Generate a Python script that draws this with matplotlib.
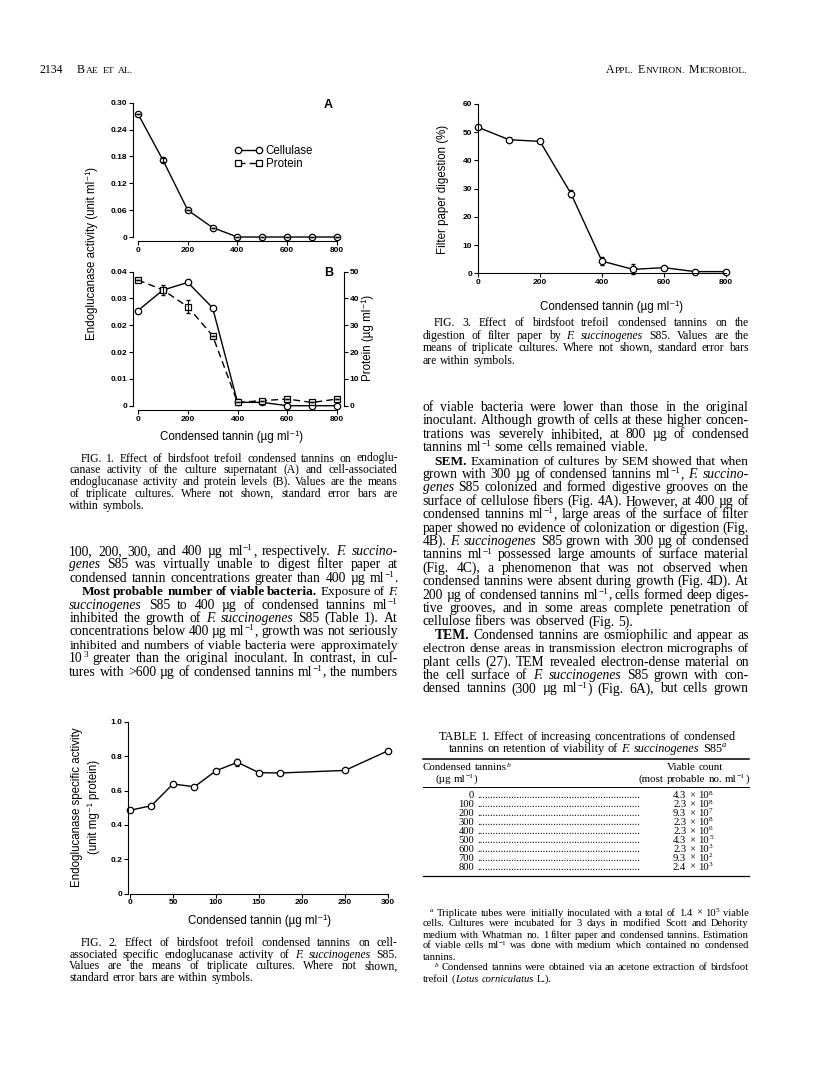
import re
import numpy as np
import matplotlib
matplotlib.use('Agg')
import matplotlib.pyplot as plt
from matplotlib.lines import Line2D

# ---------------- data ----------------
tannin_fig1 = [0, 100, 200, 300, 400, 500, 600, 700, 800]
cellulase_A = [0.275, 0.172, 0.060, 0.021, 0.0, 0.0, 0.0, 0.0, 0.0]
cellulase_A_err = [0, 0.004, 0, 0, 0, 0, 0, 0, 0]
cellulase_B = [0.0284, 0.0345, 0.0368, 0.0292, 0.0010, 0.0010, 0.0, 0.0, 0.0]
protein_B = [46.9, 43.2, 36.9, 26.1, 1.2, 1.9, 2.5, 1.2, 2.5]
protein_B_err = [0, 2.0, 2.4, 0, 0, 0, 0, 0, 0]

tannin_fig2 = [0, 25, 50, 75, 100, 125, 150, 175, 250, 300]
specific_act = [0.485, 0.512, 0.638, 0.622, 0.715, 0.764, 0.704, 0.702, 0.717, 0.831]
specific_err = [0, 0, 0, 0, 0, 0.02, 0, 0, 0, 0]

tannin_fig3 = [0, 100, 200, 300, 400, 500, 600, 700, 800]
filter_digestion = [51.7, 47.3, 46.7, 28.2, 4.3, 1.4, 2.0, 0.6, 0.6]
filter_err = [0, 0, 0, 1.3, 1.5, 1.8, 0, 0, 0]

table_conc = ['0', '100', '200', '300', '400', '500', '600', '700', '800']
table_mant = ['4.3', '2.3', '9.3', '2.3', '2.3', '4.3', '2.3', '9.3', '2.4']
table_exp = ['8', '8', '7', '8', '6', '5', '3', '2', '3']

fig1_xticks = [0, 200, 400, 600, 800]
fig1A_yticks = [0, 0.06, 0.12, 0.18, 0.24, 0.30]
fig1A_ylabels = ['0', '0.06', '0.12', '0.18', '0.24', '0.30']
fig1B_yticks = [0, 0.008, 0.016, 0.024, 0.032, 0.04]
fig1B_ylabels = ['0', '0.01', '0.02', '0.02', '0.03', '0.04']
fig1B_rticks = [0, 10, 20, 30, 40, 50]
fig2_xticks = [0, 50, 100, 150, 200, 250, 300]
fig2_yticks = [0, 0.2, 0.4, 0.6, 0.8, 1.0]
fig2_ylabels = ['0', '0.2', '0.4', '0.6', '0.8', '1.0']
fig3_xticks = [0, 200, 400, 600, 800]
fig3_yticks = [0, 10, 20, 30, 40, 50, 60]

# ---------------- text ----------------
fig1_caption = [
    "FIG. 1. Effect of birdsfoot trefoil condensed tannins on endoglu-",
    "canase activity of the culture supernatant (A) and cell-associated",
    "endoglucanase activity and protein levels (B). Values are the means",
    "of triplicate cultures. Where not shown, standard error bars are",
    "within symbols.",
]
fig2_caption = [
    "FIG. 2. Effect of birdsfoot trefoil condensed tannins on cell-",
    "associated specific endoglucanase activity of <i>F. succinogenes</i> S85.",
    "Values are the means of triplicate cultures. Where not shown,",
    "standard error bars are within symbols.",
]
fig3_caption = [
    "FIG. 3. Effect of birdsfoot trefoil condensed tannins on the",
    "digestion of filter paper by <i>F. succinogenes</i> S85. Values are the",
    "means of triplicate cultures. Where not shown, standard error bars",
    "are within symbols.",
]
left_body = [
    "100, 200, 300, and 400 µg ml<sup>−1</sup>, respectively. <i>F. succino-</i>",
    "<i>genes</i> S85 was virtually unable to digest filter paper at",
    "condensed tannin concentrations greater than 400 µg ml<sup>−1</sup>.",
    "<b>Most probable number of viable bacteria.</b> Exposure of <i>F.</i>",
    "<i>succinogenes</i> S85 to 400 µg of condensed tannins ml<sup>−1</sup>",
    "inhibited the growth of <i>F. succinogenes</i> S85 (Table 1). At",
    "concentrations below 400 µg ml<sup>−1</sup>, growth was not seriously",
    "inhibited and numbers of viable bacteria were approximately",
    "10<sup>3</sup> greater than the original inoculant. In contrast, in cul-",
    "tures with >600 µg of condensed tannins ml<sup>−1</sup>, the numbers",
]
left_indent = [0, 0, 0, 12, 0, 0, 0, 0, 0, 0]
left_just = [True] * 10
right_body = [
    "of viable bacteria were lower than those in the original",
    "inoculant. Although growth of cells at these higher concen-",
    "trations was severely inhibited, at 800 µg of condensed",
    "tannins ml<sup>−1</sup> some cells remained viable.",
    "<b>SEM.</b> Examination of cultures by SEM showed that when",
    "grown with 300 µg of condensed tannins ml<sup>−1</sup>, <i>F. succino-</i>",
    "<i>genes</i> S85 colonized and formed digestive grooves on the",
    "surface of cellulose fibers (Fig. 4A). However, at 400 µg of",
    "condensed tannins ml<sup>−1</sup>, large areas of the surface of filter",
    "paper showed no evidence of colonization or digestion (Fig.",
    "4B). <i>F. succinogenes</i> S85 grown with 300 µg of condensed",
    "tannins ml<sup>−1</sup> possessed large amounts of surface material",
    "(Fig. 4C), a phenomenon that was not observed when",
    "condensed tannins were absent during growth (Fig. 4D). At",
    "200 µg of condensed tannins ml<sup>−1</sup>, cells formed deep diges-",
    "tive grooves, and in some areas complete penetration of",
    "cellulose fibers was observed (Fig. 5).",
    "<b>TEM.</b> Condensed tannins are osmiophilic and appear as",
    "electron dense areas in transmission electron micrographs of",
    "plant cells (27). TEM revealed electron-dense material on",
    "the cell surface of <i>F. succinogenes</i> S85 grown with con-",
    "densed tannins (300 µg ml<sup>−1</sup>) (Fig. 6A), but cells grown",
]
right_indent = [0, 0, 0, 0, 12, 0, 0, 0, 0, 0, 0, 0, 0, 0, 0, 0, 0, 12, 0, 0, 0, 0]
right_just = [True, True, True, False] + [True] * 12 + [False] + [True] * 5
table_title = [
    "TABLE 1. Effect of increasing concentrations of condensed",
    "tannins on retention of viability of <i>F. succinogenes</i> S85<sup><i>a</i></sup>",
]
table_notes = [
    "<sup><i>a</i></sup> Triplicate tubes were initially inoculated with a total of 1.4 × 10<sup>5</sup> viable",
    "cells. Cultures were incubated for 3 days in modified Scott and Dehority",
    "medium with Whatman no. 1 filter paper and condensed tannins. Estimation",
    "of viable cells ml<sup>−1</sup> was done with medium which contained no condensed",
    "tannins.",
    "<sup><i>b</i></sup> Condensed tannins were obtained via an acetone extraction of birdsfoot",
    "trefoil (<i>Lotus corniculatus</i> L.).",
]
notes_indent = [7, 0, 0, 0, 0, 12, 0]
notes_just = [True, True, True, True, False, True, False]

# ---------------- setup ----------------
W, H = 816, 1080
SERIF = ['Liberation Serif', 'DejaVu Serif']
SANS = ['Liberation Sans', 'DejaVu Sans']
plt.rcParams['font.family'] = SANS
plt.rcParams['axes.linewidth'] = 0.8

fig = plt.figure(figsize=(W / 100, H / 100), dpi=100)
fig.patch.set_facecolor('white')
renderer = fig.canvas.get_renderer()


def fx(x):
    return x / W


def fy(y):
    return 1 - y / H


TAG = re.compile(r'(<i>|</i>|<b>|</b>|<sup>|</sup>)')


def parse_words(s):
    st = {'i': False, 'b': False, 's': False}
    words = [[]]
    for tok in TAG.split(s):
        if tok == '<i>':
            st['i'] = True
        elif tok == '</i>':
            st['i'] = False
        elif tok == '<b>':
            st['b'] = True
        elif tok == '</b>':
            st['b'] = False
        elif tok == '<sup>':
            st['s'] = True
        elif tok == '</sup>':
            st['s'] = False
        elif tok:
            parts = tok.split(' ')
            for k, p in enumerate(parts):
                if k > 0:
                    words.append([])
                if p:
                    words[-1].append((p, st['i'], st['b'], st['s']))
    return [w for w in words if w]


def make_piece(y, p, size, family):
    text, it, bd, sup = p
    em = size * 100 / 72
    fs = size * 0.68 if sup else size
    yy = y - em * 0.36 if sup else y
    t = fig.text(0, fy(yy), text, fontsize=fs, family=family,
                 style='italic' if it else 'normal',
                 weight='bold' if bd else 'normal', va='baseline', ha='left')
    w = t.get_window_extent(renderer).width
    return t, w


def draw_line(x0, x1, y, s, size, family=SERIF, justify=True, indent=0, align='left'):
    words = parse_words(s)
    while True:
        items = []
        for wd in words:
            pieces = []
            ww = 0
            for p in wd:
                t, pw = make_piece(y, p, size, family)
                pieces.append((t, pw))
                ww += pw + 0.3
            items.append((pieces, ww))
        total = sum(i[1] for i in items)
        n = len(items)
        space = size * 100 / 72 * 0.25
        if justify and n > 1:
            gap = (x1 - x0 - indent - total) / (n - 1)
            if gap < size * 100 / 72 * 0.18:
                for pieces, ww in items:
                    for t, pw in pieces:
                        t.remove()
                size *= 0.985
                continue
        else:
            gap = space
        break
    span = total + gap * (n - 1)
    if align == 'center':
        x = (x0 + x1) / 2 - span / 2
    elif align == 'right':
        x = x1 - span
    else:
        x = x0 + indent
    for pieces, ww in items:
        for t, pw in pieces:
            t.set_x(fx(x))
            x += pw + 0.3
        x += gap


def draw_block(lines, x0, x1, y0, step, size, indents=None, justs=None):
    for k, s in enumerate(lines):
        ind = indents[k] if indents else 0
        j = justs[k] if justs else (k < len(lines) - 1)
        draw_line(x0, x1, y0 + k * step, s, size, indent=ind, justify=j)


def smallcaps(x, y, text, big, small, align='left'):
    arts = []
    words = text.split(' ')
    xx = 0
    for wi, wd in enumerate(words):
        runs = re.findall(r'[a-z.]+|[^a-z.]+', wd)
        for r in runs:
            if r[0].islower() or r[0] == '.':
                t = fig.text(0, fy(y), r.upper(), fontsize=small, family=SERIF, va='baseline')
            else:
                t = fig.text(0, fy(y), r, fontsize=big, family=SERIF, va='baseline')
            w = t.get_window_extent(renderer).width
            arts.append((t, xx))
            xx += w + 0.5
        xx += big * 100 / 72 * 0.3
    xx -= big * 100 / 72 * 0.3
    start = x if align == 'left' else x - xx
    for t, off in arts:
        t.set_x(fx(start + off))


def px_axes(x0, y0, x1, y1):
    ax = fig.add_axes([x0 / W, 1 - y1 / H, (x1 - x0) / W, (y1 - y0) / H])
    ax.patch.set_alpha(0)
    return ax


def style_ax(ax):
    ax.tick_params(direction='out', length=2.6, width=0.8, labelsize=6, pad=1.5, colors='black')
    for lab in ax.get_xticklabels() + ax.get_yticklabels():
        lab.set_fontweight('bold')
        lab.set_family(SANS)


MK = dict(marker='o', markersize=4.6, markerfacecolor='white', markeredgecolor='black',
          markeredgewidth=0.9, color='black', linewidth=1.0, clip_on=False)

# ---------------- header ----------------
fig.text(fx(40), fy(73), '2134', fontsize=8.5, family=SERIF, va='baseline')
smallcaps(77, 73, 'Bae et al.', 8.5, 6.8)
smallcaps(748, 73, 'Appl. Environ. Microbiol.', 8.5, 6.8, align='right')

# ---------------- Fig 1A ----------------
axA = px_axes(133, 100, 342, 241)
axA.set_xlim(-20.1, 820.1)
axA.set_ylim(-0.0089, 0.306)
lA, = axA.plot(tannin_fig1, cellulase_A, **MK)
axA.errorbar(tannin_fig1, cellulase_A, yerr=cellulase_A_err, fmt='none', ecolor='black',
             elinewidth=0.8, capsize=1.5, clip_on=False)
for s in ['top', 'right']:
    axA.spines[s].set_visible(False)
axA.spines['left'].set_bounds(0, 0.30)
axA.spines['bottom'].set_bounds(0, 800)
axA.set_xticks(fig1_xticks)
axA.set_yticks(fig1A_yticks)
axA.set_yticklabels(fig1A_ylabels)
style_ax(axA)
prot_handle = Line2D([], [], marker='s', markersize=4.4, markerfacecolor='white',
                     markeredgecolor='black', markeredgewidth=0.9, color='black',
                     linewidth=1.0, linestyle=(0, (5, 3)))
axA.legend([lA, prot_handle], ['Cellulase', 'Protein'], loc='upper left',
           bbox_to_anchor=(fx(235), fy(145)), bbox_transform=fig.transFigure,
           frameon=False, fontsize=8.3, handlelength=2.4, handletextpad=0.25,
           labelspacing=0.05, borderpad=0, borderaxespad=0, numpoints=2)
fig.text(fx(328), fy(105), 'A', fontsize=9, weight='bold', ha='center', va='center')

# ---------------- Fig 1B ----------------
axB = px_axes(133, 269, 344, 410)
axB.set_xlim(-20.1, 828)
axB.set_ylim(-0.00128, 0.0408)
axB.plot(tannin_fig1, cellulase_B, zorder=3, **MK)
for s in ['top', 'right']:
    axB.spines[s].set_visible(False)
axB.spines['left'].set_bounds(0, 0.04)
axB.spines['bottom'].set_bounds(0, 800)
axB.set_xticks(fig1_xticks)
axB.set_yticks(fig1B_yticks)
axB.set_yticklabels(fig1B_ylabels)
style_ax(axB)
axR = axB.twinx()
axR.set_ylim(-1.6, 51.0)
axR.plot(tannin_fig1, protein_B, marker='s', markersize=4.4, markerfacecolor='white',
         markeredgecolor='black', markeredgewidth=0.9, color='black', linewidth=1.0,
         linestyle=(0, (5, 3)), clip_on=False, zorder=2)
axR.errorbar(tannin_fig1, protein_B, yerr=protein_B_err, fmt='none', ecolor='black',
             elinewidth=0.8, capsize=1.5, clip_on=False)
for s in ['top', 'left', 'bottom']:
    axR.spines[s].set_visible(False)
axR.spines['right'].set_bounds(0, 50)
axR.set_yticks(fig1B_rticks)
style_ax(axR)
fig.text(fx(329), fy(273), 'B', fontsize=9, weight='bold', ha='center', va='center')

fig.text(fx(92), fy(254), 'Endoglucanase activity (unit ml⁻¹)', fontsize=8.3,
         rotation=90, ha='center', va='center', family=SANS)
fig.text(fx(368), fy(338), 'Protein (µg ml⁻¹)', fontsize=8.3,
         rotation=90, ha='center', va='center', family=SANS)
fig.text(fx(232), fy(437), 'Condensed tannin (µg ml⁻¹)', fontsize=8.3,
         ha='center', va='center', family=SANS)

# ---------------- Fig 3 ----------------
ax3 = px_axes(478, 101, 729, 273.3)
ax3.set_xlim(0, 809.7)
ax3.set_ylim(0, 61)
ax3.errorbar(tannin_fig3, filter_digestion, yerr=filter_err, fmt='none', ecolor='black',
             elinewidth=0.8, capsize=1.5, clip_on=False)
ax3.plot(tannin_fig3, filter_digestion, **MK)
for s in ['top', 'right']:
    ax3.spines[s].set_visible(False)
ax3.spines['left'].set_bounds(0, 60)
ax3.spines['bottom'].set_bounds(0, 800)
ax3.set_xticks(fig3_xticks)
ax3.set_yticks(fig3_yticks)
style_ax(ax3)
fig.text(fx(443), fy(189), 'Filter paper digestion (%)', fontsize=8.3,
         rotation=90, ha='center', va='center', family=SANS)
fig.text(fx(612), fy(307), 'Condensed tannin (µg ml⁻¹)', fontsize=8.3,
         ha='center', va='center', family=SANS)

# ---------------- Fig 2 ----------------
ax2 = px_axes(128, 719, 392, 893.7)
ax2.set_xlim(-2.3, 304.7)
ax2.set_ylim(0, 1.016)
ax2.errorbar(tannin_fig2, specific_act, yerr=specific_err, fmt='none', ecolor='black',
             elinewidth=0.8, capsize=1.5, clip_on=False)
ax2.plot(tannin_fig2, specific_act, **MK)
for s in ['top', 'right']:
    ax2.spines[s].set_visible(False)
ax2.spines['left'].set_bounds(0, 1.0)
ax2.spines['bottom'].set_bounds(0, 300)
ax2.set_xticks(fig2_xticks)
ax2.set_yticks(fig2_yticks)
ax2.set_yticklabels(fig2_ylabels)
style_ax(ax2)
fig.text(fx(77), fy(807), 'Endoglucanase specific activity', fontsize=8.3,
         rotation=90, ha='center', va='center', family=SANS)
fig.text(fx(93.5), fy(807), '(unit mg⁻¹ protein)', fontsize=8.3,
         rotation=90, ha='center', va='center', family=SANS)
fig.text(fx(259), fy(921), 'Condensed tannin (µg ml⁻¹)', fontsize=8.3,
         ha='center', va='center', family=SANS)

# ---------------- captions and body ----------------
draw_block(fig1_caption, 69.3, 398, 461.5, 11.9, 8.4, indents=[11, 0, 0, 0, 0])
draw_block(fig3_caption, 422.7, 749, 326, 12.5, 8.4, indents=[11, 0, 0, 0])
draw_block(fig2_caption, 69.3, 398, 946, 11.7, 8.4, indents=[11, 0, 0, 0])
draw_block(left_body, 69.3, 398, 555, 13.4, 9.8, indents=left_indent, justs=left_just)
draw_block(right_body, 422.7, 749, 411, 13.4, 9.8, indents=right_indent, justs=right_just)

# ---------------- table ----------------
for k, s in enumerate(table_title):
    draw_line(587.5, 587.5, 740 + 11.7 * k, s, 8.8, justify=False, align='center')


def hrule(y, lw=0.9):
    fig.add_artist(Line2D([fx(422.7), fx(749)], [fy(y), fy(y)], color='black', linewidth=lw))


hrule(759.3, 1.1)
hrule(787.3, 0.7)
hrule(875.7, 0.9)
draw_line(422.7, 600, 770.5, 'Condensed tannins<sup><i>b</i></sup>', 7.9, justify=False)
draw_line(435, 600, 782, '(µg ml<sup>−1</sup>)', 7.9, justify=False)
draw_line(695, 695, 770.5, 'Viable count', 7.9, justify=False, align='center')
draw_line(694, 694, 782, '(most probable no. ml<sup>−1</sup>)', 7.9, justify=False, align='center')

tdots = fig.text(0, 0, '.' * 20, fontsize=7.6, family=SERIF)
w20 = tdots.get_window_extent(renderer).width
tdots.set_text('.' * 10)
w10 = tdots.get_window_extent(renderer).width
tdots.remove()
adv = (w20 - w10) / 10
ndots = int((640 - 477) / adv)
for k in range(len(table_conc)):
    yb = 798.5 + 8.9 * k
    fig.text(fx(474.3), fy(yb), table_conc[k], fontsize=7.6, family=SERIF, ha='right', va='baseline')
    fig.text(fx(477), fy(yb), '.' * ndots, fontsize=7.6, family=SERIF, ha='left', va='baseline')
    draw_line(693, 693, yb, table_mant[k] + ' × 10<sup>' + table_exp[k] + '</sup>', 7.7,
              justify=False, align='center')

draw_block(table_notes, 422.7, 749, 915.5, 11, 7.6, indents=notes_indent, justs=notes_just)

fig.savefig('out.png', dpi=100, facecolor='white')
